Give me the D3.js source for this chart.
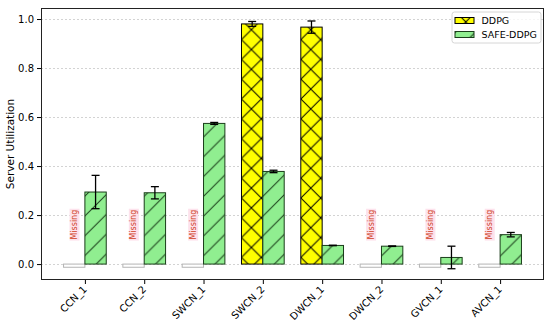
<!DOCTYPE html>
<html>
<head>
<meta charset="utf-8">
<script src="https://cdn.jsdelivr.net/npm/d3@7"></script>
<style>
  body { margin: 0; background: #fff; }
  text { font-family: "DejaVu Sans", sans-serif; }
</style>
</head>
<body>
<div id="chart"></div>
<script>
var categories = ["CCN_1", "CCN_2", "SWCN_1", "SWCN_2", "DWCN_1", "DWCN_2", "GVCN_1", "AVCN_1"];
// null = missing run
var ddpg    = [null, null, null, 0.98, 0.967, null, null, null];
var ddpgErr = [null, null, null, 0.01, 0.025, null, null, null];
var safe    = [0.294, 0.291, 0.574, 0.378, 0.076, 0.073, 0.027, 0.12];
var safeErr = [0.068, 0.025, 0.004, 0.005, 0.001, 0.001, 0.046, 0.009];
var yTicks  = [0, 0.2, 0.4, 0.6, 0.8, 1.0];
var seriesNames = ["DDPG", "SAFE-DDPG"];

var W = 550, H = 324;
var m = {left: 41, right: 6, top: 8, bottom: 44};
var barW = 0.36;
var hs = 19.8; // hatch spacing

var svg = d3.select('#chart').append('svg')
  .attr('width', W).attr('height', H);

var x = d3.scaleLinear()
  .domain([-0.74, categories.length - 1 + 0.74])
  .range([m.left, W - m.right]);
var y = d3.scaleLinear()
  .domain([-0.065, 1.045])
  .range([H - m.bottom, m.top]);

// hatch patterns
var defs = svg.append('defs');
var px = x(3 - barW) % hs;
var pX = defs.append('pattern').attr('id', 'hx')
  .attr('patternUnits', 'userSpaceOnUse')
  .attr('x', px).attr('y', 0)
  .attr('width', hs).attr('height', hs);
pX.append('rect').attr('width', hs).attr('height', hs).attr('fill', '#ffff00');
pX.append('path')
  .attr('d', 'M0,0L' + hs + ',' + hs + 'M0,' + hs + 'L' + hs + ',0')
  .attr('stroke', '#000').attr('stroke-width', 1);

var pS = defs.append('pattern').attr('id', 'hs')
  .attr('patternUnits', 'userSpaceOnUse')
  .attr('x', px).attr('y', 0)
  .attr('width', hs).attr('height', hs);
pS.append('rect').attr('width', hs).attr('height', hs).attr('fill', '#90ee90');
pS.append('path')
  .attr('d', 'M0,' + hs + 'L' + hs + ',0M' + (-hs/2) + ',' + (hs/2) + 'L' + (hs/2) + ',' + (-hs/2) +
             'M' + (hs/2) + ',' + (1.5*hs) + 'L' + (1.5*hs) + ',' + (hs/2))
  .attr('stroke', '#1a3d1a').attr('stroke-width', 1);

// grid
svg.append('g').selectAll('line').data(yTicks).join('line')
  .attr('x1', m.left).attr('x2', W - m.right)
  .attr('y1', d => Math.round(y(d)) + 0.5).attr('y2', d => Math.round(y(d)) + 0.5)
  .attr('stroke', '#c8c8c8').attr('stroke-width', 0.8)
  .attr('stroke-dasharray', '2,2');

var rows = categories.map((c, i) => ({i: i, c: c, d: ddpg[i], de: ddpgErr[i], s: safe[i], se: safeErr[i]}));

// DDPG bars / missing placeholders
rows.forEach(function (r) {
  var x0 = x(r.i - barW), x1 = x(r.i);
  if (r.d == null) {
    svg.append('rect')
      .attr('x', x0).attr('y', y(0))
      .attr('width', x1 - x0).attr('height', y(-0.013) - y(0))
      .attr('fill', '#fff').attr('stroke', '#b4b4b4').attr('stroke-width', 1);
    var g = svg.append('g')
      .attr('transform', 'translate(' + (x0 + x1) / 2 + ',' + y(0.1) + ') rotate(-90)');
    var bg = g.append('rect');
    var t = g.append('text')
      .attr('x', 0).attr('y', 0)
      .attr('dy', '0.35em')
      .attr('font-size', 8)
      .attr('fill', '#d0401c')
      .text('Missing');
    var bb = t.node().getBBox();
    bg.attr('x', bb.x - 1).attr('y', bb.y - 0.5)
      .attr('width', bb.width + 2).attr('height', bb.height + 1)
      .attr('fill', '#fde2ec');
  } else {
    svg.append('rect')
      .attr('x', x0).attr('y', y(r.d))
      .attr('width', x1 - x0).attr('height', y(0) - y(r.d))
      .attr('fill', 'url(#hx)').attr('stroke', '#000').attr('stroke-width', 1);
  }
});

// SAFE-DDPG bars
svg.append('g').selectAll('rect').data(rows).join('rect')
  .attr('x', d => x(d.i)).attr('y', d => y(d.s))
  .attr('width', d => x(d.i + barW) - x(d.i))
  .attr('height', d => y(0) - y(d.s))
  .attr('fill', 'url(#hs)').attr('stroke', '#1a3d1a').attr('stroke-width', 1);

// error bars
function errBar(cx, v, e) {
  var g = svg.append('g').attr('stroke', '#000').attr('stroke-width', 1.3);
  g.append('line').attr('x1', cx).attr('x2', cx).attr('y1', y(v - e)).attr('y2', y(v + e));
  g.append('line').attr('x1', cx - 4).attr('x2', cx + 4).attr('y1', y(v - e)).attr('y2', y(v - e));
  g.append('line').attr('x1', cx - 4).attr('x2', cx + 4).attr('y1', y(v + e)).attr('y2', y(v + e));
}
rows.forEach(function (r) {
  if (r.d != null) errBar(x(r.i - barW / 2), r.d, r.de);
  errBar(x(r.i + barW / 2), r.s, r.se);
});

// axes
var yAxis = svg.append('g').attr('transform', 'translate(' + m.left + ',0)')
  .call(d3.axisLeft(y).tickValues(yTicks).tickFormat(d3.format('.1f')).tickSize(4).tickPadding(3));
var xAxis = svg.append('g').attr('transform', 'translate(0,' + (H - m.bottom) + ')')
  .call(d3.axisBottom(x).tickValues(d3.range(categories.length)).tickFormat(i => categories[i]).tickSize(4));
[yAxis, xAxis].forEach(function (a) {
  a.select('.domain').remove();
  a.selectAll('text').attr('font-size', 10).attr('fill', '#000').attr('font-family', '"DejaVu Sans", sans-serif');
});
xAxis.selectAll('text')
  .attr('text-anchor', 'end')
  .attr('dy', 0).attr('y', 0)
  .attr('transform', 'translate(2,10) rotate(-45)');

svg.append('rect')
  .attr('x', m.left + 0.5).attr('y', m.top + 0.5)
  .attr('width', W - m.right - m.left - 1).attr('height', H - m.bottom - m.top - 1)
  .attr('fill', 'none').attr('stroke', '#222').attr('stroke-width', 1);

svg.append('text')
  .attr('transform', 'translate(14,' + (m.top + (H - m.bottom - m.top) / 2) + ') rotate(-90)')
  .attr('text-anchor', 'middle')
  .attr('font-size', 10.5)
  .text('Server Utilization');

// legend
var lg = svg.append('g').attr('transform', 'translate(452,12)');
lg.append('rect').attr('width', 89).attr('height', 31).attr('rx', 2.5)
  .attr('fill', '#fff').attr('fill-opacity', 0.8).attr('stroke', '#d6d6d6');
seriesNames.forEach(function (n, k) {
  lg.append('rect').attr('x', 3).attr('y', 5.5 + k * 14).attr('width', 19).attr('height', 6)
    .attr('fill', k === 0 ? 'url(#hx)' : 'url(#hs)')
    .attr('stroke', k === 0 ? '#000' : '#1a3d1a');
  lg.append('text').attr('x', 29.5).attr('y', 8.5 + k * 14).attr('dy', '0.35em')
    .attr('font-size', 9.5).text(n);
});
</script>
</body>
</html>
